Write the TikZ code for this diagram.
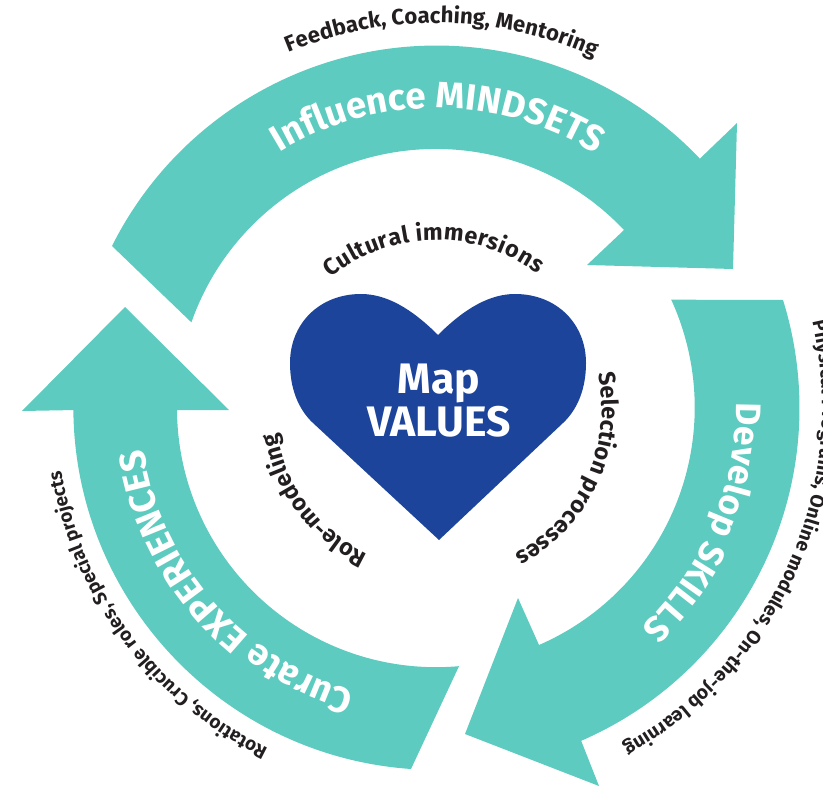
\documentclass[tikz,border=0pt]{standalone}
\usepackage{fontspec}
\setmainfont{Fira Sans}
\usetikzlibrary{decorations.text}
\definecolor{bandteal}{HTML}{5DCBBF}
\definecolor{heartblue}{HTML}{1D449B}
\definecolor{inkdark}{HTML}{231F20}
\newcommand{\fontband}{\color{white}\fontsize{27.5}{27.5}\selectfont\bfseries}
\newcommand{\fontbandb}{\color{white}\fontsize{26.6}{26.6}\selectfont\bfseries}
\newcommand{\fontmid}{\color{inkdark}\fontsize{17.5}{17.5}\selectfont\bfseries}
\newcommand{\fontmidb}{\color{inkdark}\fontsize{16.6}{16.6}\selectfont\bfseries}
\newcommand{\fontout}{\color{inkdark}\fontsize{14.4}{14.4}\selectfont\bfseries}
\newcommand{\fontoutb}{\color{inkdark}\fontsize{14.1}{14.1}\selectfont\bfseries}
\tikzset{
  band/.style={fill=bandteal,draw=none},
  heart/.style={fill=heartblue,draw=none},
  maptext/.style={text=white,font=\fontsize{32}{32}\selectfont\bfseries,anchor=base,inner sep=0pt},
  curved/.style={decorate,decoration={text along path,text align={fit to path},text={#1}}}
}
\begin{document}
\begin{tikzpicture}[x=0.75pt,y=0.75pt]
\useasboundingbox (0,0) rectangle (823,786);
\clip (0,0) rectangle (823,786);
% top arrow
\fill[band] (112,540) arc[start angle=153.4,end angle=43.5,radius=363]
  -- (737,663) -- (733,517) -- (587,521) -- (624,556)
  arc[start angle=43.4,end angle=160.7,radius=259] -- cycle;
% right arrow
\fill[band] (783,486) arc[start angle=17.3,end angle=-66.5,radius=363]
  -- (599,0) -- (465,52) -- (518,188) -- (539,141)
  arc[start angle=-66.5,end angle=24.6,radius=259] -- cycle;
% left arrow
\fill[band] (411,17) arc[start angle=-94,end angle=-179.5,radius=363]
  -- (22,375) -- (125,479) -- (229,376) -- (177,376)
  arc[start angle=180.4,end angle=275.1,radius=259] -- cycle;
% heart
\fill[heart] (438,451)
  .. controls (465,478) and (490,492) .. (515,492)
  .. controls (557,492) and (586,462) .. (586,423)
  .. controls (586,398) and (578,377) .. (563,363)
  -- (439,246) -- (313,363)
  .. controls (298,377) and (290,398) .. (290,423)
  .. controls (290,462) and (319,492) .. (361,492)
  .. controls (386,492) and (411,478) .. (438,451) -- cycle;
\node[maptext] (maplabel) at (439,393) {Map};
\node[maptext] (valueslabel) at (439,350) {VALUES};
\begin{scope}[shift={(436,378)}]
\path[curved={|\fontband|Influence MINDSETS}] (121.5:300) arc[start angle=121.5,end angle=58,radius=300];
\path[curved={|\fontbandb|Develop SKILLS}] (1:300) arc[start angle=1,end angle=-45.5,radius=300];
\path[curved={|\fontband|Curate EXPERIENCES}] (-106:295) arc[start angle=-106,end angle=-172,radius=295];
\path[curved={|\fontmidb|Feedback, Coaching, Mentoring}] (112.5:385) arc[start angle=112.5,end angle=66.5,radius=385];
\path[curved={|\fontmid|Cultural immersions}] (129:168) arc[start angle=129,end angle=53,radius=168];
\path[curved={|\fontmid|Selection processes}] (12:166) arc[start angle=12,end angle=-61.7,radius=166];
\path[curved={|\fontmid|Role-modeling}] (-115:161) arc[start angle=-115,end angle=-171,radius=161];
\path[curved={|\fontout|Physical Programs, Online modules, On-the-job learning}] (12.9:386) arc[start angle=12.9,end angle=-61,radius=386];
\path[curved={|\fontoutb|Rotations, Crucible roles, Special projects}] (-116.2:380) arc[start angle=-116.2,end angle=-170.5,radius=380];
\end{scope}
\end{tikzpicture}
\end{document}
